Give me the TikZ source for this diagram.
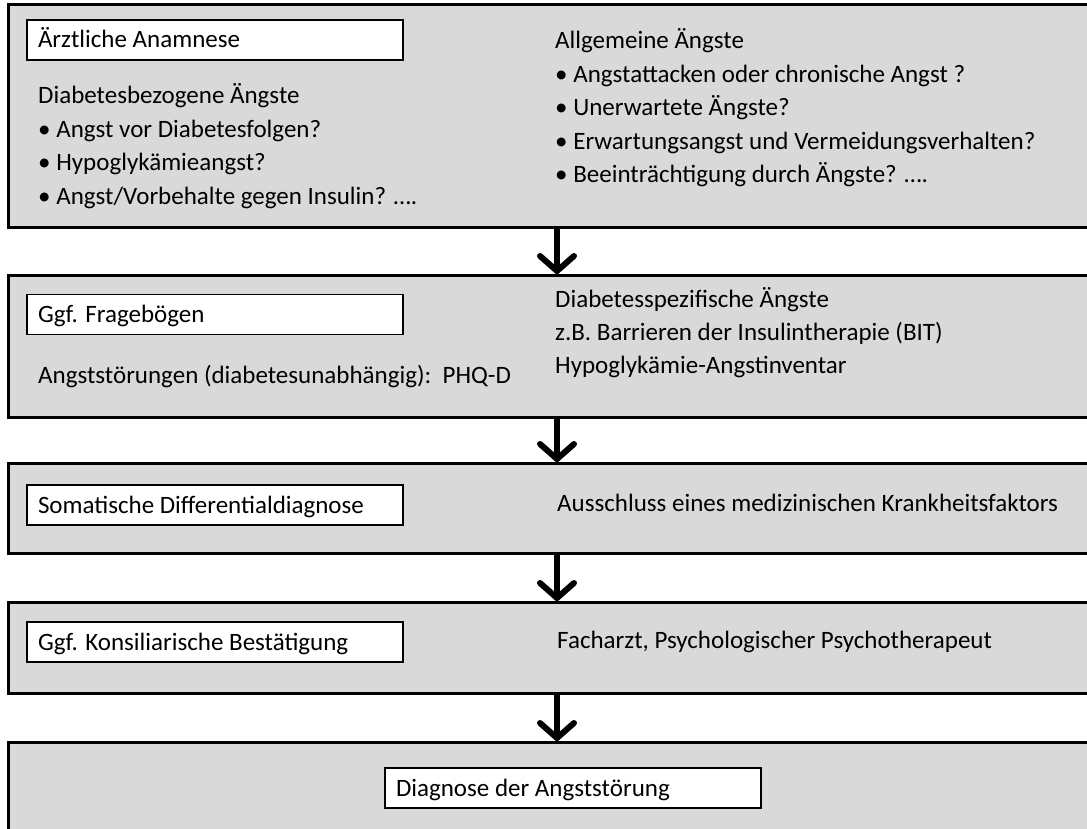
\documentclass[tikz,border=0pt]{standalone}
\usepackage{fontspec}
\setmainfont{Carlito}
\usetikzlibrary{arrows.meta}
\definecolor{panelgray}{RGB}{217,217,217}

\begin{document}
\fontsize{25}{30}\selectfont
\begin{tikzpicture}[x=1pt,y=-1pt,
    panel/.style={draw,fill=panelgray,line width=3pt,minimum width=1098pt,inner sep=0pt,outer sep=0pt},
    title/.style={draw,fill=white,line width=1.6pt,anchor=west,minimum height=40pt,text width=354pt,inner xsep=11pt,text height=18pt,text depth=2pt,align=flush left,outer sep=0pt},
    txt/.style={anchor=base west,inner sep=0pt},
    flow/.style={line width=6pt,-{Straight Barb[length=15pt,width=34pt,line cap=round]}}]
    \useasboundingbox (0,0) rectangle (1087,829);
    \clip (0,0) rectangle (1087,829);
    % the five stages
    \node[panel,minimum height=223pt] (anam) at (557,116.5) {};
    \node[panel,minimum height=142pt] (frag) at (557,346) {};
    \node[panel,minimum height=90pt] (soma) at (557,508) {};
    \node[panel,minimum height=91pt] (kons) at (557,647.5) {};
    \node[panel,minimum height=138pt] (diag) at (557,811) {};
    \draw[flow] (anam.south) -- (frag.north);
    \draw[flow] (frag.south) -- (soma.north);
    \draw[flow] (soma.south) -- (kons.north);
    \draw[flow] (kons.south) -- (diag.north);
    % stage 1
    \node[title] (anamtitle) at (27,40) {Ärztliche Anamnese};
    \node[txt] (diabangst) at (38,104) {Diabetesbezogene Ängste};
    \node[txt] (diabone) at (38,137.5) {\textbullet\ Angst vor Diabetesfolgen?};
    \node[txt] (diabtwo) at (38,171) {\textbullet\ Hypoglykämieangst?};
    \node[txt] (diabthree) at (38,204.5) {\textbullet\ Angst/Vorbehalte gegen Insulin? ….};
    \node[txt] (allgangst) at (555,49) {Allgemeine Ängste};
    \node[txt] (allgone) at (555,82.5) {\textbullet\ Angstattacken oder chronische Angst ?};
    \node[txt] (allgtwo) at (555,116) {\textbullet\ Unerwartete Ängste?};
    \node[txt] (allgthree) at (555,149.5) {\textbullet\ Erwartungsangst und Vermeidungsverhalten?};
    \node[txt] (allgfour) at (555,183) {\textbullet\ Beeinträchtigung durch Ängste? ….};
    % stage 2
    \node[title] (fragtitle) at (27,314.5) {Ggf. Fragebögen};
    \node[txt] (phq) at (38,383) {Angststörungen (diabetesunabhängig):\ \ PHQ-D};
    \node[txt] (spezone) at (555,307.5) {Diabetesspezifische Ängste};
    \node[txt] (speztwo) at (555,340.5) {z.B. Barrieren der Insulintherapie (BIT)};
    \node[txt] (spezthree) at (555,373.5) {Hypoglykämie-Angstinventar};
    % stage 3
    \node[title] (somatitle) at (27,505) {Somatische Differentialdiagnose};
    \node[txt] (aussch) at (557,511) {Ausschluss eines medizinischen Krankheitsfaktors};
    % stage 4
    \node[title] (konstitle) at (27,642) {Ggf. Konsiliarische Bestätigung};
    \node[txt] (fach) at (557,648) {Facharzt, Psychologischer Psychotherapeut};
    % stage 5
    \node[title] (diagtitle) at (385,788) {Diagnose der Angststörung};
\end{tikzpicture}
\end{document}
